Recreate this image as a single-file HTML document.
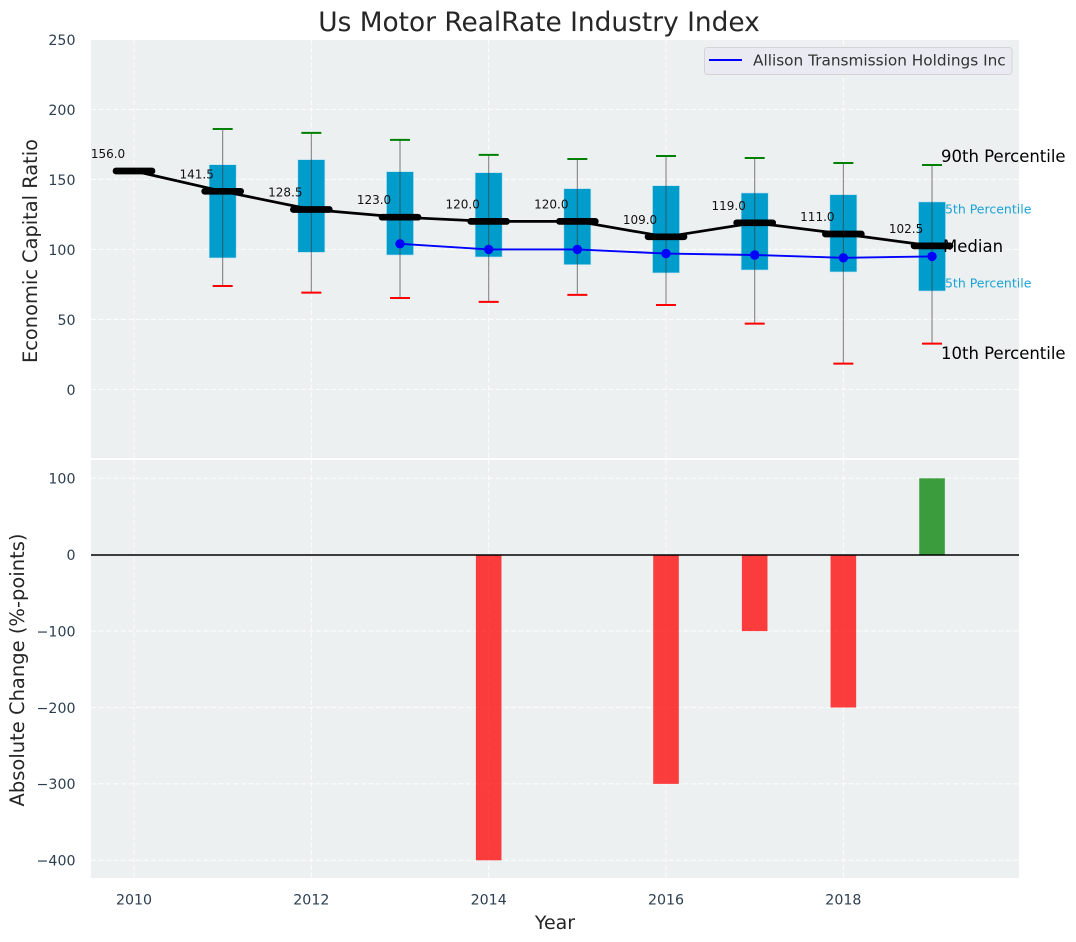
<!DOCTYPE html>
<html lang="en">
<head>
<meta charset="utf-8">
<title>Us Motor RealRate Industry Index</title>
<style>
html,body{margin:0;padding:0;background:#fff;}
#chart{display:block;width:1076px;height:942px;font-family:"DejaVu Sans","Liberation Sans",sans-serif;}
</style>
</head>
<body>
<svg id="chart" xmlns="http://www.w3.org/2000/svg" width="1076" height="942" viewBox="0 0 1076 942"></svg>
<script>
const years = [2010, 2011, 2012, 2013, 2014, 2015, 2016, 2017, 2018, 2019];
const medianValues = [156, 141.5, 128.5, 123, 120, 120, 109, 119, 111, 102.5];
const p90Values = [null, 186, 183.2, 178.2, 167.5, 164.6, 166.7, 165.3, 161.7, 160.3];
const p75Values = [null, 160.5, 164.1, 155.5, 154.8, 143.4, 145.5, 140.3, 139.1, 133.9];
const p25Values = [null, 93.9, 97.9, 96, 94.6, 89.1, 83.2, 85.3, 83.9, 70.3];
const p10Values = [null, 73.9, 69.1, 65.3, 62.5, 67.5, 60.3, 47, 18.4, 32.7];
const companyValues = [null, null, null, 104, 100, 100, 97, 96, 94, 95];
const changeValues = [null, null, null, null, -400, null, -300, -100, -200, 100];
const xTicks = [2010, 2012, 2014, 2016, 2018];
const topTicks = [0, 50, 100, 150, 200, 250];
const bottomTicks = [100, 0, -100, -200, -300, -400];
const percentileYear = 2019;

const NS = 'http://www.w3.org/2000/svg';
const svg = document.getElementById('chart');
const LEFT = 91, RIGHT = 1019;
const TOP_A = 40, BOTTOM_A = 458, TOP_B = 460, BOTTOM_B = 878;
const INK = '#2c3e50', DARK = '#262626';

const xAxis = v => 134 + (v - 2010) * 88.67;
const yTop = v => 389.4 - v * 1.4;
const yBottom = v => 554.7 - v * 0.764;

function mk(tag, attrs, parent, text) {
  const el = document.createElementNS(NS, tag);
  for (const k in attrs) el.setAttribute(k, attrs[k]);
  if (text !== undefined) el.textContent = text;
  (parent || svg).appendChild(el);
  return el;
}
function line(x1, y1, x2, y2, stroke, width, extra, parent) {
  return mk('line', Object.assign({x1, y1, x2, y2, stroke, 'stroke-width': width}, extra || {}), parent);
}

/* panels */
const topPanel = mk('rect', {x: LEFT, y: TOP_A, width: RIGHT - LEFT, height: BOTTOM_A - TOP_A, fill: '#ecf0f1'});


const bottomPanel = mk('rect', {x: LEFT, y: TOP_B, width: RIGHT - LEFT, height: BOTTOM_B - TOP_B, fill: '#ecf0f1'});



/* grid */
const grid = mk('g', {stroke: '#ffffff', 'stroke-width': 1, 'stroke-dasharray': '5 2.5', opacity: 0.9});


xTicks.forEach(t => {
  line(xAxis(t), TOP_A, xAxis(t), BOTTOM_A, '#ffffff', 1, null, grid);
  line(xAxis(t), TOP_B, xAxis(t), BOTTOM_B, '#ffffff', 1, null, grid);
});
topTicks.forEach(t => line(LEFT, yTop(t), RIGHT, yTop(t), '#ffffff', 1, null, grid));
bottomTicks.forEach(t => line(LEFT, yBottom(t), RIGHT, yBottom(t), '#ffffff', 1, null, grid));

/* tick labels */
topTicks.forEach(t => {
  const el = mk('text', {x: 75.5, y: yTop(t) + 5.6, 'text-anchor': 'end', 'font-size': 14.2, fill: INK}, svg, String(t));
  
  
});
bottomTicks.forEach(t => {
  const el = mk('text', {x: 75.5, y: yBottom(t) + 5.3, 'text-anchor': 'end', 'font-size': 14.2, fill: INK}, svg, String(t).replace('-', '\u2212'));
  
  
});
xTicks.forEach(t => {
  const el = mk('text', {x: xAxis(t), y: 904.5, 'text-anchor': 'middle', 'font-size': 14.2, fill: INK}, svg, String(t));
  
  
});

/* titles */
const title = mk('text', {x: 539, y: 31, 'text-anchor': 'middle', 'font-size': 26.4, fill: DARK}, svg, 'Us Motor RealRate Industry Index');


const xTitle = mk('text', {x: 555, y: 929, 'text-anchor': 'middle', 'font-size': 19, fill: DARK}, svg, 'Year');


const yTitleTop = mk('text', {transform: 'translate(37,251) rotate(-90)', 'text-anchor': 'middle', 'font-size': 19.4, fill: DARK}, svg, 'Economic Capital Ratio');


const yTitleBottom = mk('text', {transform: 'translate(24,670) rotate(-90)', 'text-anchor': 'middle', 'font-size': 19.5, fill: DARK}, svg, 'Absolute Change (%-points)');



/* percentile annotations (drawn beneath the boxes) */
const pX = xAxis(percentileYear);
const p75Label = mk('text', {x: pX + 5, y: 213.5, 'font-size': 12.5, fill: '#1aa3d4'}, svg, '75th Percentile');


const p25Label = mk('text', {x: pX + 5, y: 287.5, 'font-size': 12.5, fill: '#1aa3d4'}, svg, '25th Percentile');



/* boxes and whiskers */
years.forEach((yr, i) => {
  if (p90Values[i] === null) return;
  const x = xAxis(yr);
  const box = mk('rect', {x: x - 13.5, y: yTop(p75Values[i]), width: 27, height: yTop(p25Values[i]) - yTop(p75Values[i]), fill: '#009ccc', stroke: '#b8dfee', 'stroke-width': 0.6});
  
  
  const whisker = line(x, yTop(p90Values[i]), x, yTop(p10Values[i]), '#3c3c3c', 1.1, {opacity: 0.6});
  
  
  const capHi = line(x - 10, yTop(p90Values[i]), x + 10, yTop(p90Values[i]), '#008000', 2);
  
  
  const capLo = line(x - 10, yTop(p10Values[i]), x + 10, yTop(p10Values[i]), '#ff0000', 2);
  
  
});

/* median polyline */
const medianPts = years.map((yr, i) => xAxis(yr) + ',' + yTop(medianValues[i])).join(' ');
const medianLine = mk('polyline', {points: medianPts, fill: 'none', stroke: '#000', 'stroke-width': 2.7});



/* company line */
const companyPts = years.map((yr, i) => companyValues[i] === null ? null : xAxis(yr) + ',' + yTop(companyValues[i])).filter(Boolean).join(' ');
const companyLine = mk('polyline', {points: companyPts, fill: 'none', stroke: '#0000ff', 'stroke-width': 1.9});


years.forEach((yr, i) => {
  if (companyValues[i] === null) return;
  const pt = mk('circle', {cx: xAxis(yr), cy: yTop(companyValues[i]), r: 4.7, fill: '#0000ff'});
  
  
});

/* annotation text beneath median bars */
const medianAnno = mk('text', {x: pX + 11, y: 252, 'font-size': 16.5, fill: '#000'}, svg, 'Median');


const p90Anno = mk('text', {x: pX + 9, y: 162, 'font-size': 16.5, fill: '#000'}, svg, '90th Percentile');


const p10Anno = mk('text', {x: pX + 9, y: 359, 'font-size': 16.5, fill: '#000'}, svg, '10th Percentile');



/* median bars and value labels */
years.forEach((yr, i) => {
  const x = xAxis(yr), y = yTop(medianValues[i]);
  const bar = line(x - 18, y, x + 18, y, '#000', 6.7, {'stroke-linecap': 'round'});
  
  
  const lab = mk('text', {x: x - 26, y: y - 13, 'text-anchor': 'middle', 'font-size': 12, fill: '#111'}, svg, medianValues[i].toFixed(1));
  
  
});

/* change bars */
years.forEach((yr, i) => {
  const v = changeValues[i];
  if (v === null) return;
  const y0 = yBottom(0), y1 = yBottom(v);
  const bar = mk('rect', {x: xAxis(yr) - 12.8, y: Math.min(y0, y1), width: 25.6, height: Math.abs(y1 - y0), fill: v < 0 ? '#ff0000' : '#008000', opacity: 0.75});
  
  
});
const zero = line(LEFT, 555, RIGHT, 555, '#000', 1.4);



/* legend */
const legend = mk('g', {});


mk('rect', {x: 704.5, y: 47.5, width: 307.5, height: 27, rx: 3, fill: '#eaeaf2', stroke: '#d4d4d8', 'stroke-width': 1}, legend);
line(709, 60, 742, 60, '#0000ff', 1.9, null, legend);
mk('text', {x: 753, y: 65.5, 'font-size': 15.3, fill: '#333'}, legend, 'Allison Transmission Holdings Inc');
</script>
</body>
</html>
